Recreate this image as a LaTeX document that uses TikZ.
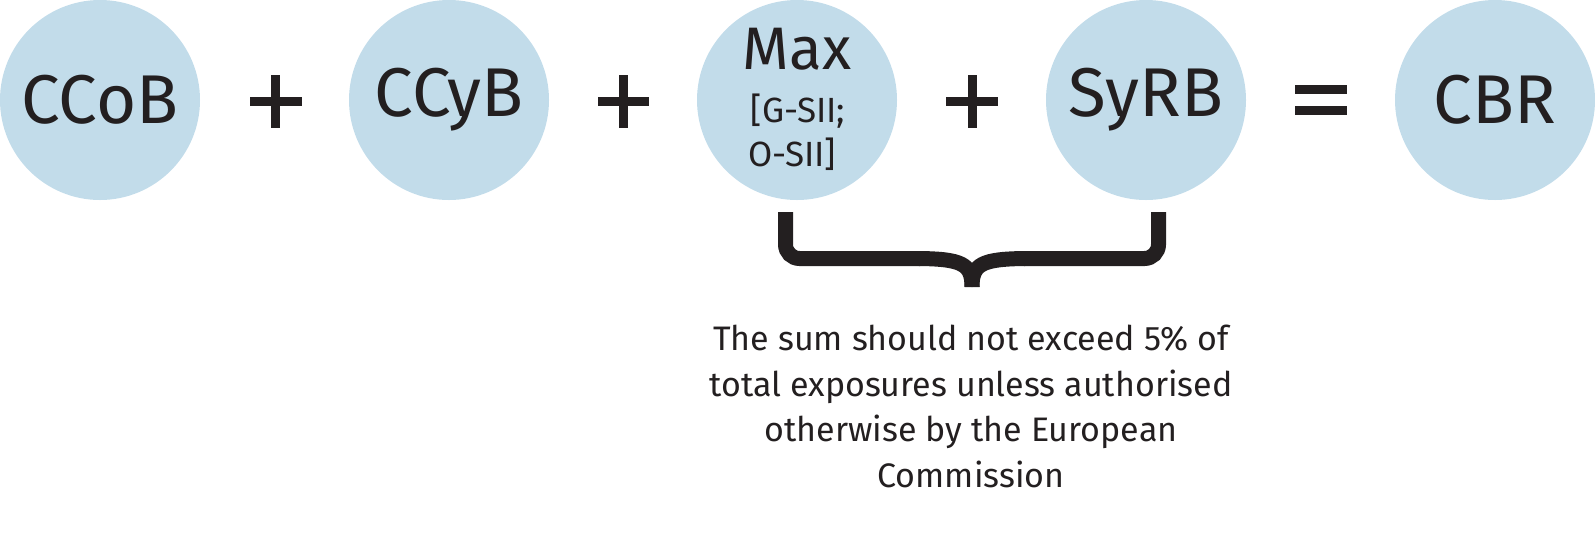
\documentclass[tikz,border=0pt]{standalone}
\usepackage{fontspec}
\setmainfont{Fira Sans}
\definecolor{bubble}{RGB}{194,220,234}
\definecolor{ink}{RGB}{35,31,32}
\begin{document}
\begin{tikzpicture}[x=1pt,y=-1pt,
  bub/.style={circle,fill=bubble,minimum size=200pt,inner sep=0pt,text=ink,font=\fontsize{69}{80}\selectfont},
  lbl/.style={text=ink,inner sep=0pt,anchor=base},
  sym/.style={draw=ink,line width=9pt},
  bracestroke/.style={draw=ink,line width=15pt,rounded corners=14pt}]
\useasboundingbox (0,0) rectangle (1595,539);
\node[bub] (ccob) at (100,100) {CCoB};
\node[bub] (ccyb) at (449,100) {CCyB};
\node[bub] (max) at (797,100) {};
\node[bub] (syrb) at (1146,100) {SyRB};
\node[bub] (cbr) at (1495,100) {CBR};
\node[lbl,font=\fontsize{60}{70}\selectfont] (maxa) at (797,69) {Max};
\node[lbl,font=\fontsize{35}{40}\selectfont] (maxb) at (798,122) {[G-SII;};
\node[lbl,font=\fontsize{35}{40}\selectfont] (maxc) at (792,166) {O-SII]};
% plus signs
\draw[sym] (250,101.5) -- (302,101.5) (275.5,75) -- (275.5,128);
\draw[sym] (598,101.5) -- (649,101.5) (623.5,75) -- (623.5,128);
\draw[sym] (946,101.5) -- (998,101.5) (972,75) -- (972,128);
% equals
\draw[sym] (1295,89.5) -- (1347,89.5) (1295,110.5) -- (1347,110.5);
% brace
\coordinate (bl) at (785.5,212);
\coordinate (br) at (1158.5,212);
\coordinate (tip) at (972,287);
\draw[bracestroke] (bl) -- (785.5,258.5) -- (920,258.5);
\draw[draw=ink,line width=15pt] (919,258.5) .. controls (962,259) and (972,264) .. (tip);
\draw[bracestroke] (br) -- (1158.5,258.5) -- (1024,258.5);
\draw[draw=ink,line width=15pt] (1025,258.5) .. controls (982,259) and (972,264) .. (tip);
\node[text=ink,font=\fontsize{34}{45.5}\selectfont,align=center,anchor=north,inner sep=0pt] (note) at (971,325)
  {The sum should not exceed 5\% of\\total exposures unless authorised\\otherwise by the European\\Commission};
\end{tikzpicture}
\end{document}
